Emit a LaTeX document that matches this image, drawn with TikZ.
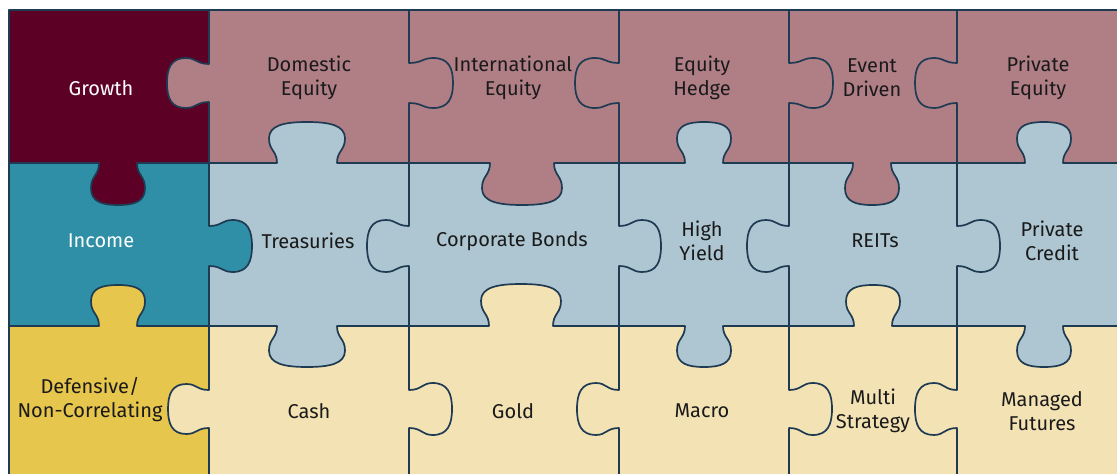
\documentclass[tikz,border=0pt]{standalone}
\usepackage{fontspec}
\setmainfont{Fira Sans}
\definecolor{growthc}{HTML}{5D0026}
\definecolor{pinkc}{HTML}{B07F86}
\definecolor{tealc}{HTML}{2E8FA6}
\definecolor{bluec}{HTML}{AEC6D1}
\definecolor{mustc}{HTML}{E6C64C}
\definecolor{creamc}{HTML}{F3E2B4}
\definecolor{linec}{HTML}{1F3B53}
\definecolor{textc}{HTML}{1A1A1A}
\begin{document}
\begin{tikzpicture}[x=1pt,y=-1pt,
  edge/.style={draw=linec, line width=1.7pt, line cap=round, line join=round},
  lbl/.style={font=\fontsize{20}{24}\selectfont, text=textc, align=center, inner sep=0pt},
  lblw/.style={lbl, text=white}]
\useasboundingbox (0,0) rectangle (1117,474);
\fill[white] (0,0) rectangle (1117,474);

% cell fills: one colour per row, category column on the left
\foreach \xa/\xb/\ya/\yb/\c in {9/209/10/163/growthc, 209/1117/10/163/pinkc,
  9/209/163/326/tealc, 209/1117/163/326/bluec,
  9/209/326/474/mustc, 209/1117/326/474/creamc}
  \fill[\c] (\xa,\ya) rectangle (\xb,\yb);

% straight grid lines
\draw[edge] (9,474) -- (9,10) -- (1117,10);
\foreach \x in {209,409,619,789,957} \draw[edge] (\x,10) -- (\x,474);
\foreach \y in {163,326} \draw[edge] (9,\y) -- (1117,\y);

% knobs on the vertical edges: x / y centre / direction / depth / neck / head / owner colour
\def\vtabs{209/83/-1/42/19/25/pinkc, 409/83/1/44/20/25/pinkc, 619/83/-1/44/20/25/pinkc,
  789/83/1/44/20/25/pinkc, 957/83/-1/42/20/25/pinkc,
  209/246/1/43/20/26/tealc, 409/246/-1/42/20/26/bluec, 619/246/1/42/20/26/bluec,
  789/246/-1/42/20/26/bluec, 957/246/1/43/20/26/bluec,
  209/409/-1/41/19/25/creamc, 409/409/1/43/19/26/creamc, 619/409/-1/42/19/26/creamc,
  789/409/1/43/19/26/creamc, 957/409/-1/42/19/26/creamc}
% knobs on the horizontal edges: x centre / y / direction / depth / neck / head / owner colour
\def\htabs{118/163/1/42/19/27/growthc, 307/163/-1/41/30/38/bluec, 522/163/1/42/32/40/pinkc,
  704/163/-1/41/19/27/bluec, 872/163/1/42/19/27/pinkc, 1044/163/-1/41/19/27/bluec,
  118/326/-1/41/19/27/mustc, 307/326/1/41/30/38/bluec, 521/326/-1/42/32/40/creamc,
  704/326/1/41/19/27/bluec, 873/326/-1/41/19/27/creamc, 1044/326/1/41/19/27/bluec}

\foreach \X/\Y/\d/\D/\n/\h/\c in \vtabs {
  \begin{scope}[shift={(\X,\Y)}, xscale=\d]
    \fill[\c] (-2,-\n) -- (0,-\n) .. controls (0.3*\D,-\n) and (0.3*\D,-\h) .. (0.55*\D,-\h)
      .. controls (0.9*\D,-\h) and (\D,-0.6*\h) .. (\D,0)
      .. controls (\D,0.6*\h) and (0.9*\D,\h) .. (0.55*\D,\h)
      .. controls (0.3*\D,\h) and (0.3*\D,\n) .. (0,\n) -- (-2,\n) -- cycle;
    \draw[edge] (0,-\n) .. controls (0.3*\D,-\n) and (0.3*\D,-\h) .. (0.55*\D,-\h)
      .. controls (0.9*\D,-\h) and (\D,-0.6*\h) .. (\D,0)
      .. controls (\D,0.6*\h) and (0.9*\D,\h) .. (0.55*\D,\h)
      .. controls (0.3*\D,\h) and (0.3*\D,\n) .. (0,\n);
  \end{scope}
}
\foreach \X/\Y/\d/\D/\n/\h/\c in \htabs {
  \begin{scope}[shift={(\X,\Y)}, yscale=\d]
    \fill[\c] (-\n,-2) -- (-\n,0) .. controls (-\n,0.3*\D) and (-\h,0.3*\D) .. (-\h,0.6*\D)
      .. controls (-\h,0.92*\D) and (-0.6*\h,\D) .. (0,\D)
      .. controls (0.6*\h,\D) and (\h,0.92*\D) .. (\h,0.6*\D)
      .. controls (\h,0.3*\D) and (\n,0.3*\D) .. (\n,0) -- (\n,-2) -- cycle;
    \draw[edge] (-\n,0) .. controls (-\n,0.3*\D) and (-\h,0.3*\D) .. (-\h,0.6*\D)
      .. controls (-\h,0.92*\D) and (-0.6*\h,\D) .. (0,\D)
      .. controls (0.6*\h,\D) and (\h,0.92*\D) .. (\h,0.6*\D)
      .. controls (\h,0.3*\D) and (\n,0.3*\D) .. (\n,0);
  \end{scope}
}

% labels
\node[lblw] (growth) at (101,88) {Growth};
\node[lbl] (domeq) at (309,78) {Domestic\\Equity};
\node[lbl] (intleq) at (513,78) {International\\Equity};
\node[lbl] (eqhedge) at (702,78) {Equity\\Hedge};
\node[lbl] (event) at (872,78) {Event\\Driven};
\node[lbl] (priveq) at (1038,78) {Private\\Equity};

\node[lblw] (income) at (101,241) {Income};
\node[lbl] (treas) at (308,241) {Treasuries};
\node[lbl] (corp) at (512,241) {Corporate Bonds};
\node[lbl] (hy) at (702,241) {High\\Yield};
\node[lbl] (reits) at (875,241) {REITs};
\node[lbl] (privcr) at (1052,241) {Private\\Credit};

\node[lbl] (defens) at (90,400) {Defensive/\\Non-Correlating};
\node[lbl] (cash) at (309,411) {Cash};
\node[lbl] (gold) at (513,411) {Gold};
\node[lbl] (macro) at (702,411) {Macro};
\node[lbl] (multi) at (873,411) {Multi\\Strategy};
\node[lbl] (mfut) at (1042,411) {Managed\\Futures};
\end{tikzpicture}
\end{document}
